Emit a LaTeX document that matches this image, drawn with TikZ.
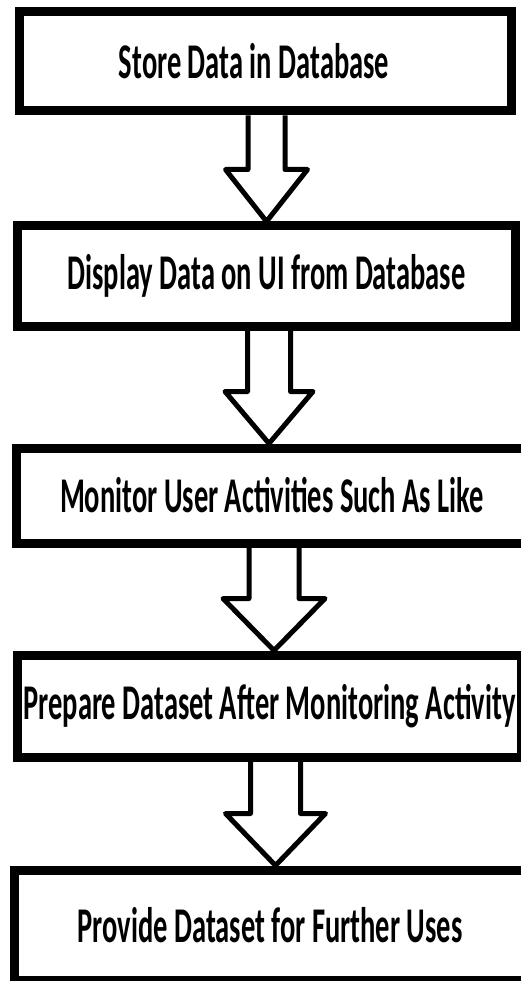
\documentclass[tikz,border=0pt]{standalone}
\usepackage{fontspec}
\newfontfamily\boxfont{Carlito}[FakeStretch=0.57]
\usetikzlibrary{positioning,calc}

% hollow block arrow from one step to the next
\newcommand{\flowarrow}[5]{%
  \coordinate (tip) at ($(#2.north)+(#3,0)$);
  \draw[hollow arrow] ($(#1.south -| tip)+(-#4,0)$) -- ($(tip)+(-#4,52)$)
    -- ($(tip)+(-#5,52)$) -- (tip) -- ($(tip)+(#5,52)$)
    -- ($(tip)+(#4,52)$) -- ($(#1.south -| tip)+(#4,0)$);}

\begin{document}
\begin{tikzpicture}[x=1pt,y=1pt,
    stepbox/.style={draw,line width=9pt,inner sep=0pt,minimum width=498pt,
      minimum height=100pt,font=\boxfont\bfseries\fontsize{50}{52}\selectfont},
    hollow arrow/.style={line width=5pt,line join=round}]

    \useasboundingbox (0,0) rectangle (521,-981);

    % Define steps
    \node[stepbox,minimum width=492pt,minimum height=99pt] (store) at (265.5,-61.5) {Store Data in Database\hspace*{23pt}};
    \node[stepbox] (display) [below=106pt of store,xshift=1pt] {Display Data on UI from Database};
    \node[stepbox,minimum width=512pt,minimum height=95pt] (monitor) [below=113pt of display,xshift=5.5pt] {Monitor User Activities Such As Like};
    \node[stepbox,minimum width=504pt,minimum height=102pt] (prepare) [below=103pt of monitor,xshift=-2.5pt] {Prepare Dataset After Monitoring Activity};
    \node[stepbox,minimum width=511pt,minimum height=110pt] (provide) [below=104pt of prepare,xshift=0.5pt] {Provide Dataset for Further Uses};

    % Draw arrows
    \flowarrow{store}{display}{0}{18.5}{41}
    \flowarrow{display}{monitor}{-3}{21.5}{44}
    \flowarrow{monitor}{prepare}{4.5}{25}{51}
    \flowarrow{prepare}{provide}{5.5}{25}{50}

\end{tikzpicture}
\end{document}
